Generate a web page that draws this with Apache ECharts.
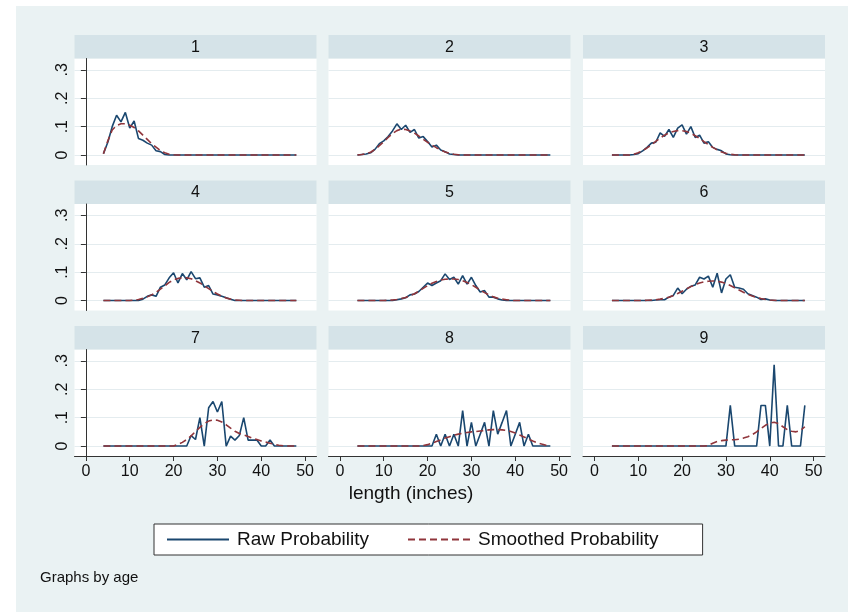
<!DOCTYPE html>
<html><head><meta charset="utf-8">
<script src="https://cdn.jsdelivr.net/npm/echarts@6/dist/echarts.min.js"></script>
<style>html,body{margin:0;padding:0;background:#fff}#c{width:848px;height:612px}</style>
</head><body><div id="c"></div>
<script>
// ---- data ----
const lengths = [4,5,6,7,8,9,10,11,12,13,14,15,16,17,18,19,20,21,22,23,24,25,26,27,28,29,30,31,32,33,34,35,36,37,38,39,40,41,42,43,44,45,46,47,48];
const ages = ['1','2','3','4','5','6','7','8','9'];
const xTicks = [0,10,20,30,40,50];
const yTicks = [0,0.1,0.2,0.3];

const raw1 = [0.005,0.045,0.10,0.14,0.117,0.15,0.095,0.12,0.058,0.052,0.042,0.035,0.015,0.012,0.002,0,0,0,0,0,0,0,0,0,0,0,0,0,0,0,0,0,0,0,0,0,0,0,0,0,0,0,0,0,0];
const smooth1 = [0.005,0.05,0.088,0.104,0.11,0.11,0.105,0.097,0.085,0.07,0.055,0.04,0.028,0.016,0.008,0.003,0.001,0,0,0,0,0,0,0,0,0,0,0,0,0,0,0,0,0,0,0,0,0,0,0,0,0,0,0,0];
const raw2 = [0,0.002,0.004,0.008,0.02,0.04,0.05,0.065,0.085,0.11,0.09,0.105,0.08,0.09,0.06,0.065,0.048,0.028,0.035,0.018,0.012,0.004,0.002,0,0,0,0,0,0,0,0,0,0,0,0,0,0,0,0,0,0,0,0,0,0];
const smooth2 = [0,0.002,0.005,0.01,0.02,0.033,0.047,0.062,0.076,0.086,0.091,0.09,0.085,0.077,0.067,0.056,0.045,0.035,0.026,0.018,0.011,0.006,0.003,0.001,0,0,0,0,0,0,0,0,0,0,0,0,0,0,0,0,0,0,0,0,0];
const raw3 = [0,0,0,0,0,0.002,0.005,0.015,0.027,0.042,0.045,0.078,0.066,0.09,0.062,0.095,0.106,0.074,0.1,0.062,0.07,0.042,0.047,0.027,0.02,0.015,0.004,0.001,0,0,0,0,0,0,0,0,0,0,0,0,0,0,0,0,0];
const smooth3 = [0,0,0,0,0,0.003,0.008,0.015,0.025,0.036,0.048,0.06,0.07,0.078,0.083,0.086,0.086,0.083,0.077,0.068,0.058,0.047,0.037,0.027,0.018,0.011,0.006,0.003,0.001,0,0,0,0,0,0,0,0,0,0,0,0,0,0,0,0];
const raw4 = [0,0,0,0,0,0,0,0,0,0.005,0.015,0.02,0.015,0.047,0.055,0.08,0.098,0.062,0.095,0.073,0.102,0.077,0.08,0.047,0.053,0.023,0.02,0.015,0.01,0.005,0,0,0,0,0,0,0,0,0,0,0,0,0,0,0];
const smooth4 = [0,0,0,0,0,0,0,0.002,0.004,0.008,0.013,0.02,0.029,0.04,0.052,0.064,0.073,0.078,0.08,0.08,0.077,0.07,0.062,0.052,0.042,0.032,0.023,0.015,0.009,0.005,0.002,0.001,0,0,0,0,0,0,0,0,0,0,0,0,0];
const raw5 = [0,0,0,0,0,0,0,0,0,0.003,0.006,0.01,0.02,0.023,0.032,0.047,0.062,0.053,0.062,0.07,0.094,0.074,0.082,0.058,0.088,0.058,0.082,0.053,0.03,0.035,0.012,0.012,0.006,0.002,0,0,0,0,0,0,0,0,0,0,0];
const smooth5 = [0,0,0,0,0,0,0,0.001,0.002,0.004,0.007,0.011,0.017,0.024,0.033,0.043,0.053,0.061,0.067,0.072,0.075,0.076,0.076,0.074,0.07,0.064,0.056,0.047,0.037,0.028,0.02,0.013,0.008,0.005,0.003,0.001,0,0,0,0,0,0,0,0,0];
const raw6 = [0,0,0,0,0,0,0,0,0,0,0.002,0.003,0.003,0.012,0.018,0.044,0.024,0.04,0.05,0.055,0.082,0.076,0.086,0.047,0.096,0.027,0.076,0.091,0.047,0.044,0.04,0.024,0.018,0.012,0.004,0.006,0.002,0,0,0,0,0,0,0,0];
const smooth6 = [0,0,0,0,0,0,0,0,0.001,0.002,0.003,0.005,0.008,0.012,0.018,0.025,0.033,0.041,0.049,0.056,0.062,0.066,0.068,0.069,0.068,0.065,0.06,0.053,0.045,0.037,0.029,0.022,0.016,0.011,0.007,0.004,0.002,0.001,0,0,0,0,0,0,0];
const raw7 = [0,0,0,0,0,0,0,0,0,0,0,0,0,0,0,0,0,0,0,0,0.037,0.023,0.1,0,0.135,0.157,0.12,0.157,0,0.035,0.021,0.037,0.1,0.021,0.021,0.021,0,0,0.021,0,0,0,0,0,0];
const smooth7 = [0,0,0,0,0,0,0,0,0,0,0,0,0,0,0,0,0,0.006,0.013,0.023,0.036,0.051,0.066,0.079,0.088,0.092,0.091,0.085,0.075,0.063,0.052,0.044,0.039,0.034,0.028,0.023,0.018,0.014,0.01,0.006,0.003,0.001,0,0,0];
const raw8 = [0,0,0,0,0,0,0,0,0,0,0,0,0,0,0,0,0,0,0.0417,0,0.0417,0,0.0417,0,0.125,0,0.0833,0,0.0417,0.0833,0,0.125,0.0417,0.0833,0.125,0,0.0417,0.0833,0,0.0417,0,0,0,0,0];
const smooth8 = [0,0,0,0,0,0,0,0,0,0,0,0,0,0,0,0.002,0.005,0.01,0.016,0.022,0.028,0.033,0.038,0.042,0.045,0.048,0.05,0.051,0.053,0.055,0.057,0.058,0.058,0.057,0.055,0.051,0.046,0.039,0.032,0.025,0.018,0.012,0.007,0.003,0.001];
const raw9 = [0,0,0,0,0,0,0,0,0,0,0,0,0,0,0,0,0,0,0,0,0,0,0,0,0,0,0,0.143,0,0,0,0,0,0,0.143,0.143,0,0.286,0,0,0.143,0,0,0,0.143];
const smooth9 = [0,0,0,0,0,0,0,0,0,0,0,0,0,0,0,0,0,0,0,0,0,0,0.002,0.01,0.016,0.019,0.021,0.022,0.022,0.024,0.028,0.033,0.04,0.05,0.062,0.073,0.081,0.084,0.079,0.068,0.058,0.052,0.05,0.055,0.068];

const rawSeries = [raw1,raw2,raw3,raw4,raw5,raw6,raw7,raw8,raw9];
const smoothSeries = [smooth1,smooth2,smooth3,smooth4,smooth5,smooth6,smooth7,smooth8,smooth9];

// ---- layout / style ----
const FONT = 'Liberation Sans, Arial, sans-serif';
const NAVY = '#1a476f', MAROON = '#90353b';
const BG = '#eaf2f3', STRIP = '#d5e3e8', GRIDLINE = '#e4ecef';
const colLeft = [74.5, 328.5, 583];
const rowTop = [35, 180.5, 326];
const W = 242, STRIP_H = 23.5, PLOT_H = 106.5;

const pair = arr => lengths.map((x, i) => [x, arr[i]]);

const grids = [], xAxes = [], yAxes = [], series = [], graphics = [];
graphics.push({type:'rect', shape:{x:16, y:6, width:832, height:606}, style:{fill:BG}, z:-10, silent:true});

for (let i = 0; i < 9; i++) {
  const r = Math.floor(i / 3), c = i % 3;
  const left = colLeft[c], top = rowTop[r] + STRIP_H;
  grids.push({left:left, top:top, width:W, height:PLOT_H, show:true, backgroundColor:'#fff', borderWidth:0, containLabel:false});
  graphics.push({type:'rect', shape:{x:left, y:rowTop[r], width:W, height:STRIP_H}, style:{fill:STRIP}, silent:true});
  graphics.push({type:'text', x:left + W/2, y:rowTop[r] + STRIP_H/2 + 0.5, style:{text:ages[i], fill:'#111', font:'16px ' + FONT, textAlign:'center', textVerticalAlign:'middle'}, silent:true});
  const bottom = r === 2, leftCol = c === 0;
  xAxes.push({
    type:'value', gridIndex:i, min:-2.6, max:52.6,
    axisLine:{show:bottom, onZero:false, lineStyle:{color:'#333', width:1}},
    axisTick:{show:bottom, length:5, customValues:xTicks, lineStyle:{color:'#333'}},
    axisLabel:{show:bottom, customValues:xTicks, margin:8, color:'#111', fontSize:16, fontFamily:FONT},
    splitLine:{show:false}
  });
  yAxes.push({
    type:'value', gridIndex:i, min:-0.035, max:0.34,
    axisLine:{show:leftCol, lineStyle:{color:'#333', width:1}},
    axisTick:{show:leftCol, length:5, customValues:yTicks, lineStyle:{color:'#333'}},
    axisLabel:{show:leftCol, customValues:yTicks, rotate:90, margin:4, color:'#111', fontSize:16, fontFamily:FONT,
      formatter: v => v === 0 ? '0' : String(v).replace(/^0/, '')},
    splitLine:{show:true, lineStyle:{color:GRIDLINE, width:1}}
  });
  series.push({name:'Raw Probability', type:'line', xAxisIndex:i, yAxisIndex:i, data:pair(rawSeries[i]),
    symbol:'none', lineStyle:{color:NAVY, width:1.6}, itemStyle:{color:NAVY}, animation:false});
  series.push({name:'Smoothed Probability', type:'line', xAxisIndex:i, yAxisIndex:i, data:pair(smoothSeries[i]),
    symbol:'none', lineStyle:{color:MAROON, width:1.6, type:[7,4]}, itemStyle:{color:MAROON}, animation:false});
}

graphics.push({type:'text', x:411, y:494, style:{text:'length (inches)', fill:'#111', font:'19px ' + FONT, textAlign:'center', textVerticalAlign:'middle'}, silent:true});
graphics.push({type:'text', x:40, y:578, style:{text:'Graphs by age', fill:'#111', font:'15px ' + FONT, textAlign:'left', textVerticalAlign:'middle'}, silent:true});

const chart = echarts.init(document.getElementById('c'), null, {renderer:'canvas'});
chart.setOption({
  animation:false,
  backgroundColor:'#fff',
  grid: grids, xAxis: xAxes, yAxis: yAxes, series: series,
  legend: {
    data:['Raw Probability','Smoothed Probability'],
    left:154, top:524,
    backgroundColor:'#fff', borderColor:'#333', borderWidth:1, borderRadius:0,
    padding:[6, 44, 6, 12], itemWidth:62, itemHeight:20, itemGap:38,
    itemStyle:{opacity:0},
    textStyle:{fontSize:19, color:'#111', fontFamily:FONT, padding:[0,0,0,3]},
    selectedMode:false
  },
  graphic: graphics
});
</script></body></html>
